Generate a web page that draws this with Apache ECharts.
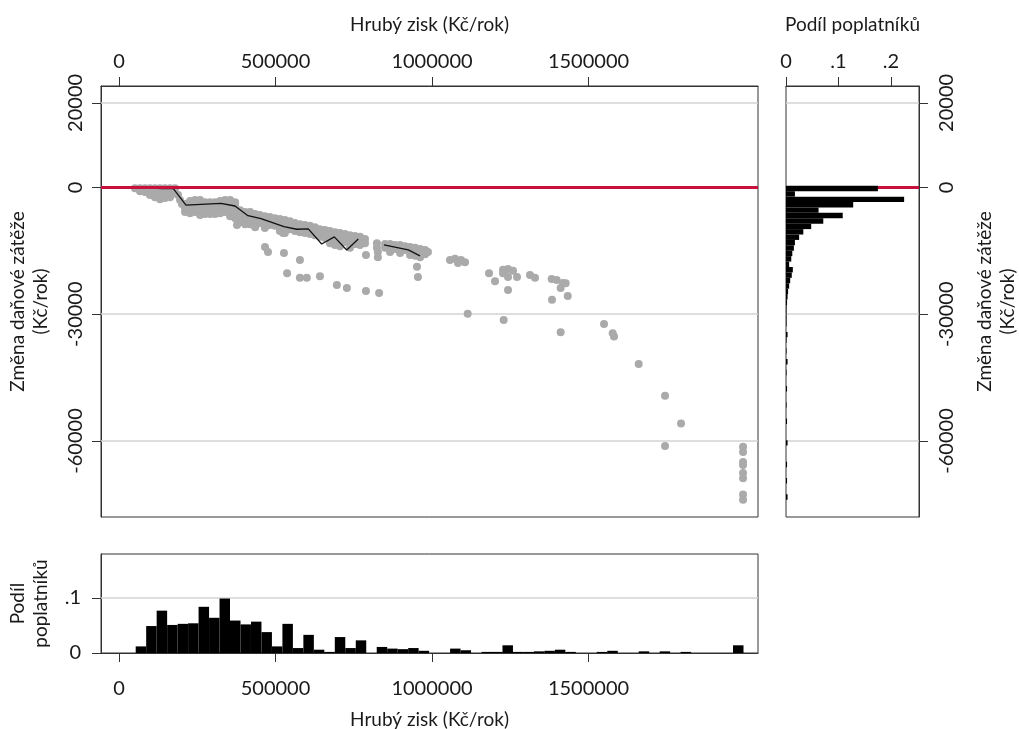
<!DOCTYPE html>
<html>
<head>
<meta charset="utf-8">
<script src="https://cdn.jsdelivr.net/npm/echarts@6/dist/echarts.min.js"></script>
<style>
  html, body { margin: 0; padding: 0; background: #fff; }
  #chart { width: 1019px; height: 729px; }
</style>
</head>
<body>
<div id="chart"></div>
<script>
// body of the scatter: for each gross income, the tax changes seen in that column
const bandColumns = [
  [51000, [-200]],
  [67000, [-200, -900]],
  [83000, [-200, -1100]],
  [99000, [-200, -1100, -1800]],
  [115000, [-200, -1300, -2300]],
  [131000, [-200, -1100, -2100, -2800]],
  [147000, [-200, -1300, -2500]],
  [163000, [-200, -1100, -2100, -2300]],
  [179000, [-200, -1300]],
  [188500, [-1800]],
  [195000, [-3000]],
  [201000, [-3900]],
  [211000, [-3900, -4900, -5800]],
  [227000, [-3200, -4200, -5100, -6100]],
  [243000, [-3000, -3900, -4900, -5800]],
  [259000, [-3000, -3900, -4900, -5800, -6500]],
  [275000, [-3500, -4400, -5400, -6300]],
  [291000, [-3500, -4400, -5400, -6300]],
  [307000, [-3500, -4400, -5400, -6300]],
  [323000, [-3200, -4200, -5100, -6100]],
  [339000, [-3000, -3900, -4900, -5800]],
  [355000, [-3000, -3900, -4900, -5800, -6800]],
  [371000, [-3500, -4400, -5400, -6300, -7300]],
  [387000, [-5400, -6300, -7300, -8200]],
  [403000, [-5800, -6800, -7700, -8700]],
  [419000, [-5800, -6800, -7700, -8700]],
  [435000, [-6300, -7300, -8200, -9400]],
  [450000, [-6500, -7500, -8400]],
  [466000, [-6800, -7700, -8700, -9600]],
  [482000, [-7000, -8000, -8900]],
  [498000, [-7300, -8200, -9100]],
  [514000, [-7500, -8400, -9400, -10300]],
  [530000, [-7700, -8700, -9600, -10800]],
  [546000, [-8000, -8900, -9900]],
  [562000, [-8400, -9400, -10300]],
  [578000, [-8700, -9600, -10600]],
  [594000, [-8900, -9900, -10800]],
  [610000, [-9100, -10100, -11000]],
  [626000, [-9400, -10300, -11300]],
  [642000, [-9900, -10800, -11700]],
  [658000, [-10100, -11000, -12000]],
  [674000, [-10300, -11300, -12200, -13200]],
  [690000, [-10600, -11500, -12500, -13600]],
  [706000, [-10800, -11700, -12700, -13900]],
  [722000, [-11000, -12000, -12900]],
  [738000, [-11300, -12200, -13200, -14300]],
  [754000, [-11500, -12500, -13400]],
  [770000, [-11700, -12700, -13600]],
  [786000, [-12200, -13200]],
  [824000, [-13200, -14300]],
  [827000, [-15300, -16500]],
  [850000, [-13400, -14300]],
  [866000, [-13400, -14300, -15300]],
  [882000, [-13600, -14600]],
  [898000, [-13600, -14600, -15500]],
  [914000, [-13900, -14800]],
  [930000, [-14100, -15100, -16000]],
  [946000, [-14300, -15300, -16200]],
  [962000, [-14600, -15500, -16500]],
  [978000, [-14800, -15800]],
  [987000, [-15300]],
  [1993700, [-61400, -62600, -65000, -65700, -67600, -68800, -72700, -73900]]
];

// scattered single observations
const outlierPoints = [
  [377000, -8900], [466500, -14100], [476000, -15300], [524000, -10800],
  [527000, -15500], [578000, -17200], [537000, -20300], [578000, -21400],
  [600000, -21400], [642000, -21000], [696000, -23100], [728000, -23800],
  [789000, -24500], [831000, -25000], [789000, -16000],
  [952000, -18800], [955000, -21200],
  [1057500, -17200], [1073500, -16900], [1083100, -17900], [1092700, -17200], [1105500, -17700],
  [1182200, -20300], [1201300, -22200],
  [1226900, -19500], [1242900, -19300], [1258800, -19700], [1271600, -21200],
  [1242900, -21200], [1226900, -20300], [1242900, -24300],
  [1313100, -20700], [1329100, -21400],
  [1382400, -21700], [1398400, -21900], [1418500, -22600], [1427000, -22700],
  [1411000, -23800], [1433600, -25700], [1383400, -26600],
  [1114000, -29900], [1229000, -31400], [1411000, -34300], [1549600, -32300],
  [1577300, -34500], [1581500, -35300], [1660400, -41800],
  [1744500, -49300], [1795600, -55900], [1744500, -61200]
];

// average change line (the '-' marks a gap)
const meanLine = [
  [56500, 0], [136400, -300], [173500, -300], [214000, -4200], [326000, -3800],
  [370600, -4400], [412000, -6700], [453700, -7400], [527000, -9300],
  [567700, -9900], [604800, -9800], [647600, -13400], [687900, -11700],
  [727500, -14800], [764500, -12200], [800000, '-'], [846600, -13600],
  [924300, -14800], [961700, -16200]
];

// histogram of gross income (bottom)
const incomeBinStart = 53350;
const incomeBinWidth = 33480;
const incomeShares = [
  0.012, 0.049, 0.077, 0.051, 0.053, 0.054, 0.084, 0.064, 0.099, 0.059,
  0.052, 0.057, 0.038, 0.012, 0.053, 0.009, 0.033, 0.006, 0.002, 0.029,
  0.009, 0.023, 0, 0.011, 0.008, 0.007, 0.009, 0.004, 0, 0,
  0.008, 0.005, 0, 0.002, 0.002, 0.014, 0.002, 0.002, 0.003, 0.004,
  0.006, 0.002, 0, 0, 0.002, 0.004, 0, 0, 0.003, 0,
  0.003, 0, 0.002, 0, 0, 0, 0, 0.014
];

// histogram of tax change (right)
const changeBinTop = 380;
const changeBinHeight = 1281;
const changeShares = [
  0.175, 0.017, 0.225, 0.128, 0.062, 0.108, 0.071, 0.048, 0.033, 0.025,
  0.017, 0.015, 0.012, 0.010, 0.006, 0.013, 0.011, 0.008, 0.006, 0.004,
  0.003, 0.002, 0.001, 0.001, 0.001, 0.001, 0, 0.003, 0.001, 0,
  0.001, 0, 0.003, 0, 0.001, 0, 0, 0.002, 0, 0,
  0.001, 0, 0, 0.002, 0, 0, 0, 0.003, 0, 0,
  0, 0.002, 0, 0, 0.002, 0, 0, 0.003
];

const incomeTicks = [0, 500000, 1000000, 1500000];
const changeTicks = [20000, 0, -30000, -60000];
const changeGrid = [20000, -30000, -60000];
const shareTicksRight = [0, 0.1, 0.2];
const shareTicksBottom = [0, 0.1];

const FONT = 'Lato';
const TXT = '#1a1a1a';
const FRAME = '#333333';
const GRIDC = '#d3d3d3';
const RED = '#c8103c';

const scatterData = [];
bandColumns.forEach(([x, ys]) => ys.forEach((y) => scatterData.push([x, y])));
outlierPoints.forEach((p) => scatterData.push(p));

const incomeHist = incomeShares.map((s, i) => [
  incomeBinStart + i * incomeBinWidth,
  incomeBinStart + (i + 1) * incomeBinWidth,
  s
]);
const changeHist = changeShares.map((s, i) => [
  s,
  changeBinTop - i * changeBinHeight,
  changeBinTop - (i + 1) * changeBinHeight
]);

const plainFmt = (v) => String(v);
const shareFmt = (v) => (v === 0 ? '0' : String(v).replace(/^0/, ''));

const label = (extra) => Object.assign({
  fontFamily: FONT, fontSize: 20, color: TXT, formatter: plainFmt
}, extra);

const nameStyle = { fontFamily: FONT, fontSize: 19, color: TXT, lineHeight: 23 };
const tick = (vals) => ({ show: true, inside: false, length: 9, lineStyle: { color: FRAME, width: 1 }, customValues: vals });
const axisLineOpt = { show: true, onZero: false, lineStyle: { color: FRAME, width: 1 } };
const gridBox = (left, top, width, height) => ({
  left, top, width, height,
  outerBoundsMode: 'none',
  containLabel: false,
  show: true, borderColor: FRAME, borderWidth: 1, backgroundColor: 'transparent'
});

const myChart = echarts.init(document.getElementById('chart'));

const gridLineSeries = (xi, yi, values) => ({
  type: 'line',
  xAxisIndex: xi,
  yAxisIndex: yi,
  data: [],
  z: 1,
  silent: true,
  markLine: {
    z: 1,
    silent: true,
    symbol: 'none',
    label: { show: false },
    lineStyle: { color: GRIDC, width: 1.5, type: 'solid' },
    data: values.map((v) => ({ yAxis: v }))
  }
});

const zeroLineSeries = (xi, yi, z) => ({
  type: 'line',
  xAxisIndex: xi,
  yAxisIndex: yi,
  data: [],
  z: z,
  silent: true,
  markLine: {
    z: z,
    silent: true,
    symbol: 'none',
    label: { show: false },
    lineStyle: { color: RED, width: 3, type: 'solid' },
    data: [{ yAxis: 0 }]
  }
});

myChart.setOption({
  animation: false,
  backgroundColor: '#ffffff',
  grid: [
    gridBox(101, 86, 657, 431),
    gridBox(786, 86, 133, 431),
    gridBox(101, 554, 657, 99)
  ],
  xAxis: [
    {
      gridIndex: 0, type: 'value', position: 'top',
      min: -57500, max: 2041500,
      name: 'Hrubý zisk (Kč/rok)', nameLocation: 'middle', nameGap: 50, nameMoveOverlap: false,
      nameTextStyle: nameStyle,
      axisLine: axisLineOpt,
      axisTick: tick(incomeTicks),
      axisLabel: label({ margin: 14, customValues: incomeTicks }),
      splitLine: { show: false }
    },
    {
      gridIndex: 1, type: 'value', position: 'top',
      min: 0, max: 0.2533,
      name: 'Podíl poplatníků', nameLocation: 'middle', nameGap: 50, nameMoveOverlap: false,
      nameTextStyle: nameStyle,
      axisLine: axisLineOpt,
      axisTick: tick(shareTicksRight),
      axisLabel: label({ margin: 14, customValues: shareTicksRight, formatter: shareFmt }),
      splitLine: { show: false }
    },
    {
      gridIndex: 2, type: 'value', position: 'bottom',
      min: -57500, max: 2041500,
      name: 'Hrubý zisk (Kč/rok)', nameLocation: 'middle', nameGap: 55, nameMoveOverlap: false,
      nameTextStyle: nameStyle,
      axisLine: axisLineOpt,
      axisTick: tick(incomeTicks),
      axisLabel: label({ margin: 26, customValues: incomeTicks }),
      splitLine: { show: false }
    }
  ],
  yAxis: [
    {
      gridIndex: 0, type: 'value', position: 'left',
      min: -78000, max: 24000,
      name: 'Změna daňové zátěže\n(Kč/rok)', nameLocation: 'middle', nameGap: 49, nameRotate: 90, nameMoveOverlap: false,
      nameTextStyle: nameStyle,
      axisLine: axisLineOpt,
      axisTick: tick(changeTicks),
      axisLabel: label({ margin: 15, rotate: 90, customValues: changeTicks }),
      splitLine: { show: false }
    },
    {
      gridIndex: 1, type: 'value', position: 'right',
      min: -78000, max: 24000,
      name: 'Změna daňové zátěže\n(Kč/rok)', nameLocation: 'middle', nameGap: 54, nameRotate: 90, nameMoveOverlap: false,
      nameTextStyle: nameStyle,
      axisLine: axisLineOpt,
      axisTick: tick(changeTicks),
      axisLabel: label({ margin: 18, rotate: 90, customValues: changeTicks }),
      splitLine: { show: false }
    },
    {
      gridIndex: 2, type: 'value', position: 'left',
      min: 0, max: 0.18,
      name: 'Podíl\npoplatníků', nameLocation: 'middle', nameGap: 49, nameRotate: 90, nameMoveOverlap: false,
      nameTextStyle: nameStyle,
      axisLine: axisLineOpt,
      axisTick: tick(shareTicksBottom),
      axisLabel: label({ margin: 20, customValues: shareTicksBottom, formatter: shareFmt }),
      splitLine: { show: false }
    }
  ],
  series: [
    gridLineSeries(0, 0, changeGrid),
    {
      name: 'pozorování',
      type: 'scatter',
      xAxisIndex: 0, yAxisIndex: 0,
      data: scatterData,
      symbol: 'circle',
      symbolSize: 8,
      itemStyle: { color: '#aaaaaa', opacity: 1 },
      z: 2,
      silent: true
    },
    {
      name: 'průměr',
      type: 'line',
      xAxisIndex: 0, yAxisIndex: 0,
      data: meanLine,
      showSymbol: false,
      connectNulls: false,
      lineStyle: { color: '#111111', width: 1.3 },
      z: 3,
      silent: true
    },
    zeroLineSeries(0, 0, 6),
    gridLineSeries(1, 1, changeGrid),
    zeroLineSeries(1, 1, 1),
    {
      type: 'custom',
      xAxisIndex: 1, yAxisIndex: 1,
      data: changeHist,
      encode: { x: 0, y: [1, 2] },
      z: 3,
      silent: true,
      renderItem: (params, api) => {
        const p1 = api.coord([0, api.value(1)]);
        const p2 = api.coord([api.value(0), api.value(2)]);
        return {
          type: 'rect',
          shape: { x: p1[0], y: p1[1], width: p2[0] - p1[0], height: p2[1] - p1[1] },
          style: { fill: '#000000' }
        };
      }
    },
    gridLineSeries(2, 2, [0.1]),
    {
      type: 'custom',
      xAxisIndex: 2, yAxisIndex: 2,
      data: incomeHist,
      encode: { x: [0, 1], y: 2 },
      z: 3,
      silent: true,
      renderItem: (params, api) => {
        const p1 = api.coord([api.value(0), api.value(2)]);
        const p2 = api.coord([api.value(1), 0]);
        return {
          type: 'rect',
          shape: { x: p1[0], y: p1[1], width: p2[0] - p1[0], height: p2[1] - p1[1] },
          style: { fill: '#000000' }
        };
      }
    }
  ]
});
</script>
</body>
</html>
